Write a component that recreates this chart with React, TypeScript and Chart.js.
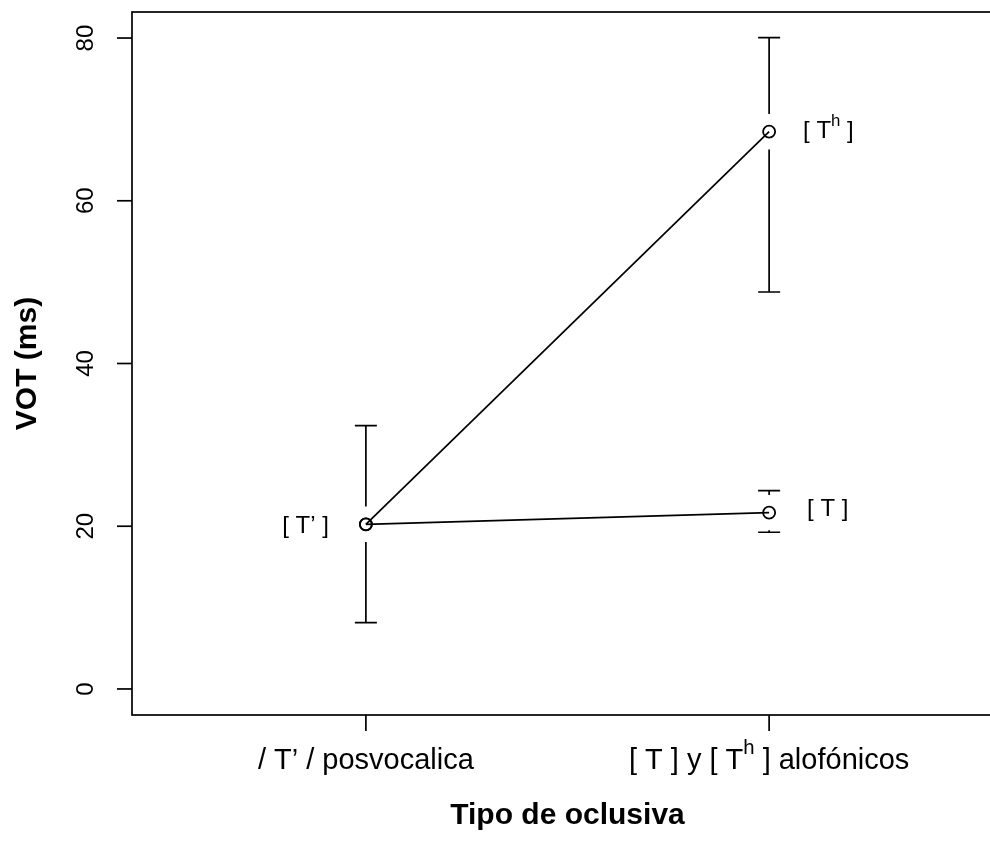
import React, { useEffect, useRef } from "react";
import { Chart, registerables } from "chart.js";

Chart.register(...registerables);

// ---- data ----
const categories = ["/ T’ / posvocalica", "[ T ] y [ T^{h} ] alofónicos"];
const categoryPositions = [1, 2];
const yTicks = [0, 20, 40, 60, 80];
const xTitle = "Tipo de oclusiva";
const yTitle = "VOT (ms)";

// line from [T'] to [Th] and from [T'] to [T]
const aspiratedLine = [20.24, 68.49];
const plainLine = [20.24, 21.67];

// points with their error bars and labels
const pointNames = ["[ T’ ]", "[ T^{h} ]", "[ T ]"];
const pointX = [1, 2, 2];
const pointY = [20.24, 68.49, 21.67];
const errLow = [8.15, 48.79, 19.26];
const errHigh = [32.36, 80.04, 24.37];

const FONT = "'Liberation Sans', Arial, Helvetica, sans-serif";

function parseRich(text: string) {
  const segs: { t: string; sup: boolean }[] = [];
  const re = /\^\{([^}]*)\}/g;
  let last = 0;
  let m: RegExpExecArray | null;
  while ((m = re.exec(text)) !== null) {
    if (m.index > last) segs.push({ t: text.slice(last, m.index), sup: false });
    segs.push({ t: m[1], sup: true });
    last = m.index + m[0].length;
  }
  if (last < text.length) segs.push({ t: text.slice(last), sup: false });
  return segs;
}

function drawRich(
  ctx: CanvasRenderingContext2D,
  text: string,
  x: number,
  y: number,
  align: "left" | "center" | "right",
  size: number,
  bold = false
) {
  const segs = parseRich(text);
  const w = bold ? "bold " : "";
  const supSize = size * 0.7;
  let total = 0;
  for (const s of segs) {
    ctx.font = `${w}${s.sup ? supSize : size}px ${FONT}`;
    total += ctx.measureText(s.t).width;
  }
  let cx = align === "left" ? x : align === "center" ? x - total / 2 : x - total;
  ctx.textAlign = "left";
  ctx.textBaseline = "middle";
  for (const s of segs) {
    ctx.font = `${w}${s.sup ? supSize : size}px ${FONT}`;
    ctx.fillText(s.t, cx, s.sup ? y - size * 0.45 : y);
    cx += ctx.measureText(s.t).width;
  }
}

const rPlot = {
  id: "rPlot",
  afterDraw(chart: any) {
    const { ctx, chartArea: a, scales } = chart;
    const xs = scales.x;
    const ys = scales.y;
    ctx.save();
    ctx.strokeStyle = "#000";
    ctx.fillStyle = "#000";
    ctx.lineWidth = 1.7;

    // box
    ctx.strokeRect(a.left, a.top, a.right - a.left, a.bottom - a.top);

    // y axis ticks and labels
    for (const v of yTicks) {
      const py = ys.getPixelForValue(v);
      ctx.beginPath();
      ctx.moveTo(a.left - 15, py);
      ctx.lineTo(a.left, py);
      ctx.stroke();
      ctx.save();
      ctx.translate(86, py);
      ctx.rotate(-Math.PI / 2);
      drawRich(ctx, String(v), 0, 0, "center", 24);
      ctx.restore();
    }

    // x axis ticks and labels
    categories.forEach((c, i) => {
      const px = xs.getPixelForValue(categoryPositions[i]);
      ctx.beginPath();
      ctx.moveTo(px, a.bottom);
      ctx.lineTo(px, a.bottom + 16);
      ctx.stroke();
      drawRich(ctx, c, px, 761, "center", 29);
    });

    // titles
    drawRich(ctx, xTitle, (a.left + a.right) / 2, 816, "center", 30, true);
    ctx.save();
    ctx.translate(28, (a.top + a.bottom) / 2);
    ctx.rotate(-Math.PI / 2);
    drawRich(ctx, yTitle, 0, 0, "center", 30, true);
    ctx.restore();

    // error bars
    const gap = 17.7;
    const cap = 11;
    for (let i = 0; i < pointX.length; i++) {
      const px = xs.getPixelForValue(pointX[i]);
      const pc = ys.getPixelForValue(pointY[i]);
      const ph = ys.getPixelForValue(errHigh[i]);
      const pl = ys.getPixelForValue(errLow[i]);
      ctx.beginPath();
      if (pc - gap > ph) {
        ctx.moveTo(px, ph);
        ctx.lineTo(px, pc - gap);
      }
      if (pc + gap < pl) {
        ctx.moveTo(px, pc + gap);
        ctx.lineTo(px, pl);
      }
      ctx.moveTo(px - cap, ph);
      ctx.lineTo(px + cap, ph);
      ctx.moveTo(px - cap, pl);
      ctx.lineTo(px + cap, pl);
      ctx.stroke();
    }

    // point labels
    const offs = [
      { dx: -37, dy: 2, align: "right" as const },
      { dx: 34, dy: 0, align: "left" as const },
      { dx: 38, dy: -3, align: "left" as const },
    ];
    for (let i = 0; i < pointNames.length; i++) {
      const px = xs.getPixelForValue(pointX[i]);
      const py = ys.getPixelForValue(pointY[i]);
      drawRich(ctx, pointNames[i], px + offs[i].dx, py + offs[i].dy, offs[i].align, 24);
    }
    ctx.restore();
  },
};

export default function App() {
  const ref = useRef<HTMLCanvasElement | null>(null);
  useEffect(() => {
    if (!ref.current) return;
    const lineStyle = {
      borderColor: "#000",
      borderWidth: 1.7,
      pointRadius: 6,
      pointBorderWidth: 1.8,
      pointBorderColor: "#000",
      pointBackgroundColor: "rgba(0,0,0,0)",
      tension: 0,
      fill: false,
    };
    const chart = new Chart(ref.current, {
      type: "line",
      data: {
        datasets: [
          {
            label: "[ T' ] - [ Th ]",
            data: categoryPositions.map((c, i) => ({ x: c, y: aspiratedLine[i] })),
            ...lineStyle,
          },
          {
            label: "[ T' ] - [ T ]",
            data: categoryPositions.map((c, i) => ({ x: c, y: plainLine[i] })),
            ...lineStyle,
          },
        ],
      },
      options: {
        responsive: false,
        animation: false,
        devicePixelRatio: 1,
        layout: { padding: { left: 132, top: 12, right: 17, bottom: 127 } },
        scales: {
          x: { type: "linear", min: 0.42, max: 2.58, display: false },
          y: { type: "linear", min: -3.2, max: 83.2, display: false },
        },
        plugins: { legend: { display: false }, tooltip: { enabled: false } },
      },
      plugins: [rPlot],
    } as any);
    return () => chart.destroy();
  }, []);
  return (
    <div
      style={{
        position: "fixed",
        left: 0,
        top: 0,
        width: 990,
        height: 842,
        overflow: "hidden",
        background: "#fff",
      }}
    >
      <canvas ref={ref} width={1020} height={842} style={{ display: "block" }} />
    </div>
  );
}
